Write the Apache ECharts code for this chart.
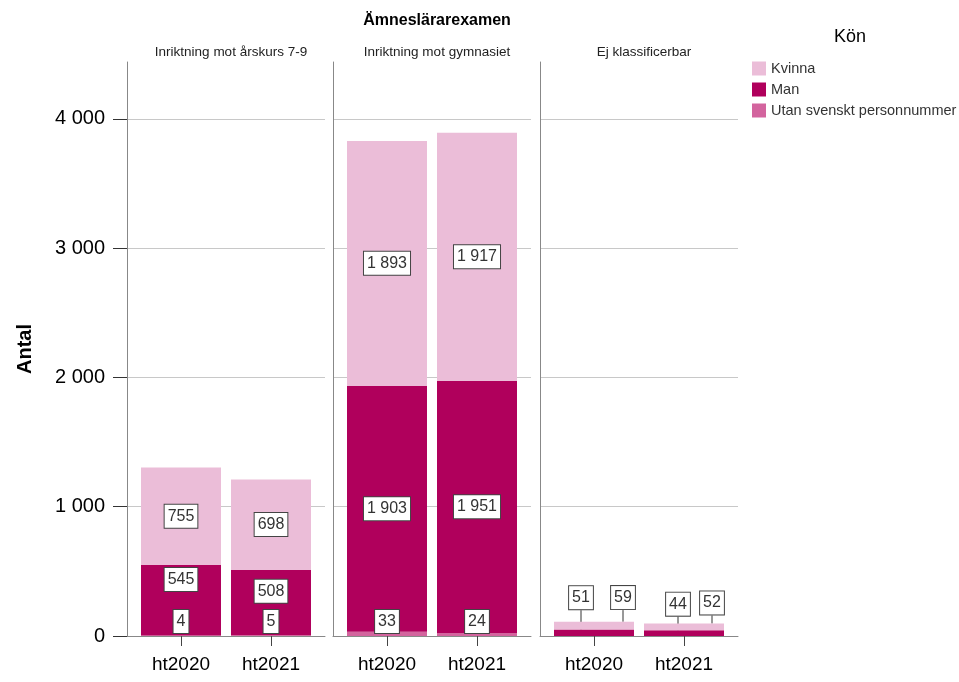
<!DOCTYPE html>
<html>
<head>
<meta charset="utf-8">
<script src="https://cdn.jsdelivr.net/npm/echarts@6/dist/echarts.min.js"></script>
<style>html,body{margin:0;padding:0;background:#fff}#c{width:959px;height:682px}</style>
</head>
<body>
<div id="c"></div>
<script>
// ---- data ----
const categories = ['ht2020', 'ht2021'];
const panelTitles = ['Inriktning mot årskurs 7-9', 'Inriktning mot gymnasiet', 'Ej klassificerbar'];
const mainTitle = 'Ämneslärarexamen';
const legendTitle = 'Kön';
const seriesNames = ['Kvinna', 'Man', 'Utan svenskt personnummer'];
const kvinna = [[755, 698], [1893, 1917], [59, 52]];
const man = [[545, 508], [1903, 1951], [51, 44]];
const utan = [[4, 5], [33, 24], [null, null]];
const yTickValues = [0, 1000, 2000, 3000, 4000];
const yMax = 4440;

// ---- style / layout ----
const FONT = 'Liberation Sans, Arial, sans-serif';
const colors = { 'Kvinna': '#EBBDD8', 'Man': '#B0005C', 'Utan svenskt personnummer': '#D3649E' };
const panelLeft = [127, 333, 540];
const panelWidth = 198;
const gridTop = 62, gridBottom = 46;

function fmt(v) { return String(v).replace(/\B(?=(\d{3})+(?!\d))/g, ' '); }
const labelBox = {
  show: true, color: '#333', fontSize: 16, fontFamily: FONT,
  backgroundColor: '#fff', borderColor: '#444', borderWidth: 1, padding: [4, 3, 3, 3],
  formatter: prm => fmt(prm.value)
};

const grid = [], xAxis = [], yAxis = [], series = [], title = [];

title.push({ text: mainTitle, left: 432, top: 8, textAlign: 'center',
  textStyle: { fontSize: 16, fontWeight: 'bold', color: '#000', fontFamily: FONT } });
title.push({ text: legendTitle, left: 845, top: 23, textAlign: 'center',
  textStyle: { fontSize: 18, fontWeight: 'normal', color: '#000', fontFamily: FONT } });

// label offsets for the small panel (moved labels with guide lines)
const movedLabels = {
  'Man': [[-13, -35], [-6, -29]],
  'Kvinna': [[29, -28], [28, -24]]
};
const manTopDistance = [3, 10];

function movedLayout(key) {
  return prm => {
    const d = movedLabels[key][prm.dataIndex];
    const lr = prm.labelRect, r = prm.rect;
    const lx = lr.x + d[0], ly = lr.y + d[1];
    const cx = r.x + r.width / 2;
    let start, end;
    if (key === 'Man') {
      start = [lx + lr.width * 0.75, ly + lr.height];
      end = [cx, r.y + r.height / 2];
    } else {
      start = [lx + 1, ly + lr.height];
      end = [cx + 3, r.y + 1];
    }
    const mid = [(start[0] + end[0]) / 2, (start[1] + end[1]) / 2];
    return { dx: d[0], dy: d[1], labelLinePoints: [start, mid, end] };
  };
}

for (let p = 0; p < 3; p++) {
  const fg = 2 * p, bg = 2 * p + 1;
  title.push({ text: panelTitles[p], left: panelLeft[p] + panelWidth / 2, top: 40, textAlign: 'center',
    textStyle: { fontSize: 13.5, fontWeight: 'normal', color: '#222', fontFamily: FONT } });
  grid.push({ left: panelLeft[p], width: panelWidth, top: gridTop, bottom: gridBottom, containLabel: false });
  grid.push({ left: panelLeft[p] + 9, width: 180, top: gridTop, bottom: gridBottom, containLabel: false });

  xAxis.push({ gridIndex: fg, type: 'category', data: categories,
    axisLine: { show: true, lineStyle: { color: '#888', width: 1 } },
    axisTick: { show: false }, axisLabel: { show: false }, splitLine: { show: false } });
  xAxis.push({ gridIndex: bg, type: 'category', data: categories,
    axisLine: { show: false },
    axisTick: { show: true, alignWithLabel: true, length: 10, lineStyle: { color: '#444' } },
    axisLabel: { show: true, fontSize: 19, color: '#000', fontFamily: FONT, margin: 19 } });

  yAxis.push({ gridIndex: fg, type: 'value', min: 0, max: yMax, interval: 1000,
    name: p === 0 ? 'Antal' : '', nameLocation: 'middle', nameRotate: 90, nameGap: 92,
    nameTextStyle: { fontSize: 20, fontWeight: 'bold', color: '#000', fontFamily: FONT },
    axisLine: { show: true, lineStyle: { color: '#888', width: 1 } },
    axisTick: { show: p === 0, length: 14, customValues: yTickValues, lineStyle: { color: '#333' } },
    axisLabel: { show: p === 0, customValues: yTickValues, fontSize: 20, color: '#000', fontFamily: FONT, margin: 22,
      formatter: v => (v % 1000 === 0 ? fmt(v) : '') },
    splitLine: { show: true, lineStyle: { color: '#c8c8c8', width: 1 } } });
  yAxis.push({ gridIndex: bg, type: 'value', min: 0, max: yMax, interval: 1000, show: false,
    splitLine: { show: false } });

  const stack = 'panel' + p;
  const small = p === 2;

  series.push({
    name: 'Utan svenskt personnummer', type: 'bar', stack, xAxisIndex: bg, yAxisIndex: bg, barWidth: 80,
    itemStyle: { color: colors['Utan svenskt personnummer'] },
    label: Object.assign({}, labelBox, { position: 'insideBottom', distance: 3 }),
    data: utan[p].map(v => v)
  });
  const manSeries = {
    name: 'Man', type: 'bar', stack, xAxisIndex: bg, yAxisIndex: bg, barWidth: 80,
    itemStyle: { color: colors['Man'] },
    label: Object.assign({}, labelBox, { position: 'inside' }),
    data: man[p].map((v, i) => (p === 0 ? { value: v, label: { position: 'insideTop', distance: manTopDistance[i] } } : v))
  };
  if (small) {
    manSeries.labelLayout = movedLayout('Man');
    manSeries.labelLine = { show: true, lineStyle: { color: '#333', width: 1 } };
  }
  series.push(manSeries);
  const kvSeries = {
    name: 'Kvinna', type: 'bar', stack, xAxisIndex: bg, yAxisIndex: bg, barWidth: 80,
    itemStyle: { color: colors['Kvinna'] },
    label: Object.assign({}, labelBox, { position: 'inside' }),
    data: kvinna[p].map(v => v)
  };
  if (small) {
    kvSeries.labelLayout = movedLayout('Kvinna');
    kvSeries.labelLine = { show: true, lineStyle: { color: '#333', width: 1 } };
  }
  series.push(kvSeries);
}

const chart = echarts.init(document.getElementById('c'), null, { renderer: 'canvas' });
chart.setOption({
  animation: false,
  backgroundColor: '#fff',
  textStyle: { fontFamily: FONT },
  title,
  legend: {
    data: seriesNames, orient: 'vertical', left: 752, top: 61, padding: 0,
    itemWidth: 14, itemHeight: 14, itemGap: 6, icon: 'rect',
    textStyle: { fontSize: 14.5, color: '#333', fontFamily: FONT },
    selectedMode: false
  },
  grid, xAxis, yAxis, series
});
</script>
</body>
</html>
